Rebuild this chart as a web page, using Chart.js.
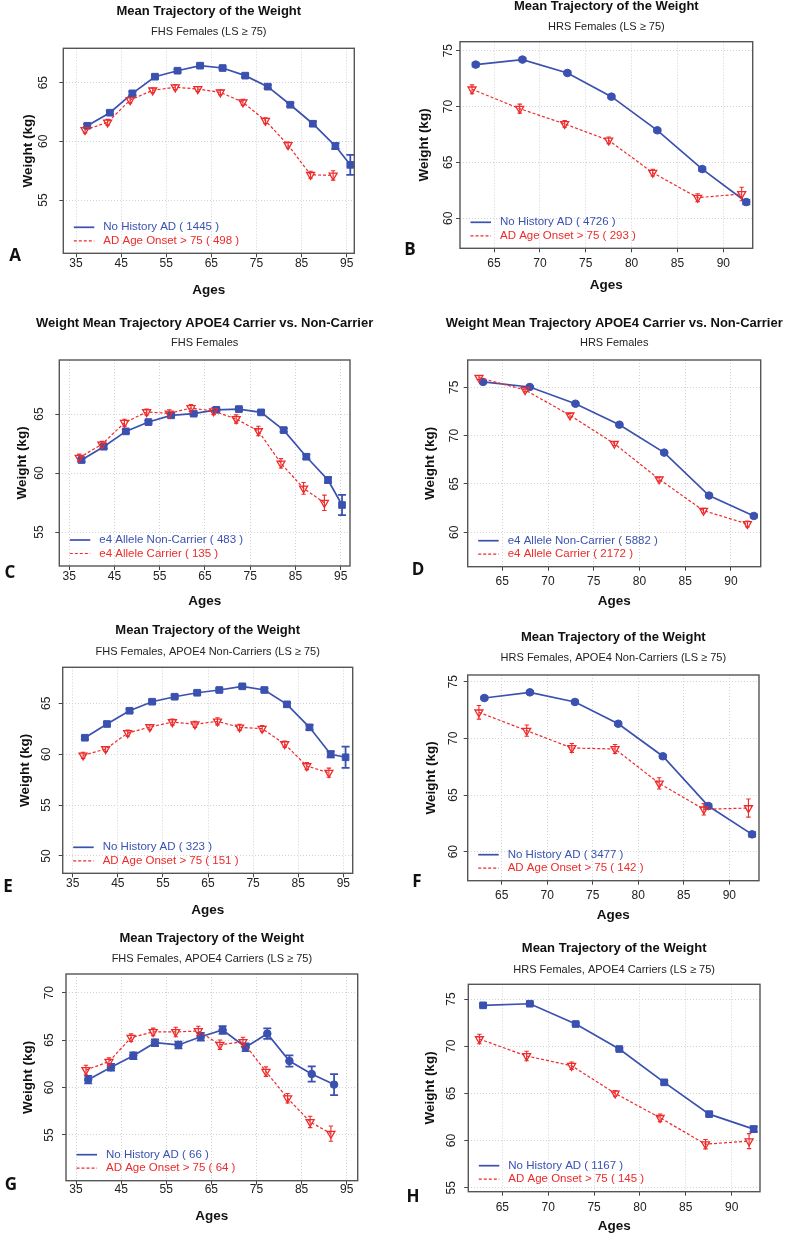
<!DOCTYPE html>
<html lang="en">
<head>
  <meta charset="UTF-8">
  <title>Mean Trajectory of the Weight</title>
  <script src="https://cdn.jsdelivr.net/npm/chart.js"></script>
  <style>
    body { margin: 0; background: #fff; }
    #page { position: relative; width: 786px; height: 1239px; overflow: hidden; }
    #page canvas { position: absolute; }
  </style>
</head>
<body>
<div id="page"></div>
<script>
  // ---------- data ----------
  const titleMean = 'Mean Trajectory of the Weight';
  const titleApoe = 'Weight Mean Trajectory APOE4 Carrier vs. Non-Carrier';
  const xTicksFHS = [35, 45, 55, 65, 75, 85, 95];
  const xTicksHRS = [65, 70, 75, 80, 85, 90];

  // A  FHS females
  const legendA = ['No History AD ( 1445 )', 'AD Age Onset > 75 ( 498 )'];
  const yTicksA = [55, 60, 65];
  const agesA1 = [37.5, 42.5, 47.5, 52.5, 57.5, 62.5, 67.5, 72.5, 77.5, 82.5, 87.5, 92.5, 95.8];
  const weightA1 = [61.33, 62.44, 64.09, 65.51, 66.02, 66.45, 66.25, 65.6, 64.66, 63.12, 61.5, 59.6, 58.0];
  const errA1 = [0.15, 0.15, 0.15, 0.12, 0.12, 0.12, 0.12, 0.12, 0.15, 0.15, 0.2, 0.25, 0.85];
  const agesA2 = [37, 42, 47, 52, 57, 62, 67, 72, 77, 82, 87, 92];
  const weightA2 = [60.97, 61.62, 63.52, 64.35, 64.61, 64.46, 64.18, 63.33, 61.76, 59.69, 57.15, 57.1];
  const errA2 = [0.25, 0.25, 0.25, 0.2, 0.2, 0.2, 0.2, 0.25, 0.25, 0.25, 0.3, 0.4];

  // B  HRS females
  const legendB = ['No History AD ( 4726 )', 'AD Age Onset > 75 ( 293 )'];
  const yTicksB = [60, 65, 70, 75];
  const agesB1 = [63.0, 68.1, 73.0, 77.8, 82.8, 87.7, 92.5];
  const weightB1 = [73.75, 74.2, 73.0, 70.88, 67.87, 64.4, 61.45];
  const errB1 = [0.15, 0.12, 0.12, 0.12, 0.12, 0.15, 0.2];
  const agesB2 = [62.6, 67.8, 72.7, 77.5, 82.3, 87.2, 92.0];
  const weightB2 = [71.54, 69.81, 68.44, 66.97, 64.08, 61.84, 62.17];
  const errB2 = [0.4, 0.4, 0.3, 0.3, 0.3, 0.35, 0.6];

  // C  FHS females, APOE4
  const legendC = ['e4 Allele Non-Carrier ( 483 )', 'e4 Allele Carrier ( 135 )'];
  const yTicksC = [55, 60, 65];
  const agesC1 = [37.7, 42.6, 47.5, 52.5, 57.5, 62.5, 67.5, 72.5, 77.4, 82.4, 87.4, 92.2, 95.3];
  const weightC1 = [61.1, 62.23, 63.53, 64.32, 64.89, 65.03, 65.36, 65.42, 65.14, 63.64, 61.38, 59.41, 57.29];
  const errC1 = [0.15, 0.15, 0.15, 0.12, 0.12, 0.12, 0.12, 0.12, 0.15, 0.15, 0.2, 0.25, 0.85];
  const agesC2 = [37.2, 42.2, 47.2, 52.1, 57.1, 61.9, 66.9, 71.9, 76.8, 81.8, 86.8, 91.4];
  const weightC2 = [61.3, 62.43, 64.26, 65.17, 65.06, 65.51, 65.25, 64.58, 63.56, 60.82, 58.7, 57.48];
  const errC2 = [0.3, 0.25, 0.3, 0.25, 0.3, 0.3, 0.3, 0.35, 0.4, 0.4, 0.5, 0.65];

  // D  HRS females, APOE4
  const legendD = ['e4 Allele Non-Carrier ( 5882 )', 'e4 Allele Carrier ( 2172 )'];
  const yTicksD = [60, 65, 70, 75];
  const agesD1 = [62.9, 68.0, 73.0, 77.8, 82.7, 87.6, 92.5];
  const weightD1 = [75.55, 75.03, 73.3, 71.13, 68.24, 63.8, 61.69];
  const errD1 = [0.1, 0.1, 0.1, 0.1, 0.1, 0.12, 0.15];
  const agesD2 = [62.45, 67.5, 72.4, 77.25, 82.15, 87.0, 91.8];
  const weightD2 = [75.99, 74.72, 72.1, 69.17, 65.49, 62.24, 60.86];
  const errD2 = [0.2, 0.2, 0.2, 0.2, 0.2, 0.25, 0.3];

  // E  FHS females, APOE4 non-carriers
  const legendE = ['No History AD ( 323 )', 'AD Age Onset > 75 ( 151 )'];
  const yTicksE = [50, 55, 60, 65];
  const agesE1 = [37.7, 42.6, 47.6, 52.6, 57.6, 62.6, 67.5, 72.6, 77.5, 82.5, 87.5, 92.2, 95.5];
  const weightE1 = [61.62, 62.97, 64.27, 65.16, 65.65, 66.04, 66.31, 66.67, 66.31, 64.9, 62.64, 59.99, 59.7];
  const errE1 = [0.15, 0.15, 0.15, 0.15, 0.15, 0.15, 0.15, 0.15, 0.15, 0.2, 0.25, 0.3, 1.05];
  const agesE2 = [37.3, 42.3, 47.2, 52.1, 57.1, 62.1, 67.1, 72.0, 77.0, 82.0, 86.9, 91.8];
  const weightE2 = [59.89, 60.51, 62.08, 62.67, 63.16, 62.94, 63.23, 62.64, 62.51, 61.0, 58.84, 58.18];
  const errE2 = [0.3, 0.25, 0.3, 0.25, 0.3, 0.3, 0.35, 0.3, 0.3, 0.3, 0.35, 0.45];

  // F  HRS females, APOE4 non-carriers
  const legendF = ['No History AD ( 3477 )', 'AD Age Onset > 75 ( 142 )'];
  const yTicksF = [60, 65, 70, 75];
  const agesF1 = [63.1, 68.1, 73.05, 77.8, 82.7, 87.7, 92.5];
  const weightF1 = [73.56, 74.06, 73.21, 71.29, 68.42, 64.03, 61.53];
  const errF1 = [0.12, 0.12, 0.12, 0.12, 0.12, 0.15, 0.2];
  const agesF2 = [62.5, 67.75, 72.7, 77.45, 82.3, 87.2, 92.1];
  const weightF2 = [72.3, 70.68, 69.15, 69.06, 66.03, 63.74, 63.85];
  const errF2 = [0.6, 0.5, 0.4, 0.4, 0.5, 0.5, 0.8];

  // G  FHS females, APOE4 carriers
  const legendG = ['No History AD ( 66 )', 'AD Age Onset > 75 ( 64 )'];
  const yTicksG = [55, 60, 65, 70];
  const agesG1 = [37.7, 42.75, 47.7, 52.5, 57.7, 62.65, 67.5, 72.6, 77.4, 82.3, 87.25, 92.2];
  const weightG1 = [60.83, 62.14, 63.36, 64.73, 64.49, 65.36, 66.07, 64.25, 65.68, 62.8, 61.43, 60.31];
  const errG1 = [0.4, 0.35, 0.35, 0.35, 0.35, 0.4, 0.4, 0.4, 0.55, 0.6, 0.8, 1.1];
  const agesG2 = [37.2, 42.3, 47.2, 52.1, 57.1, 62.1, 66.9, 72.0, 77.1, 81.9, 86.9, 91.5];
  const weightG2 = [61.85, 62.73, 65.26, 65.86, 65.86, 65.96, 64.52, 64.81, 61.68, 58.87, 56.38, 55.14];
  const errG2 = [0.5, 0.4, 0.4, 0.4, 0.5, 0.5, 0.5, 0.5, 0.5, 0.5, 0.6, 0.8];

  // H  HRS females, APOE4 carriers
  const legendH = ['No History AD ( 1167 )', 'AD Age Onset > 75 ( 145 )'];
  const yTicksH = [55, 60, 65, 70, 75];
  const agesH1 = [62.9, 68.0, 73.0, 77.75, 82.65, 87.55, 92.4];
  const weightH1 = [74.33, 74.5, 72.35, 69.7, 66.17, 62.8, 61.21];
  const errH1 = [0.12, 0.12, 0.12, 0.12, 0.15, 0.15, 0.3];
  const agesH2 = [62.5, 67.65, 72.55, 77.3, 82.2, 87.15, 91.9];
  const weightH2 = [70.76, 68.96, 67.93, 65.0, 62.41, 59.62, 59.94];
  const errH2 = [0.5, 0.5, 0.4, 0.3, 0.4, 0.5, 0.8];

  // ---------- styles ----------
  const BLUE = '#3a51b0';
  const RED = '#ee2a2a';
  const FONT = "'Liberation Sans', Arial, sans-serif";
  const TICK_LEN = 4;
  const TICK_SIZE = 12;
  const LABEL_W = 13.3; // width of a two digit tick label

  // error bars drawn from the library scales
  const errorBars = {
    id: 'errorBars',
    beforeDatasetsDraw(chart) {
      const ctx = chart.ctx;
      const xs = chart.scales.x, ys = chart.scales.y;
      chart.data.datasets.forEach(ds => {
        ctx.save();
        ctx.strokeStyle = ds.borderColor;
        ctx.lineWidth = ds.errWidth;
        ctx.setLineDash([]);
        ds.data.forEach((p, i) => {
          const e = ds.errors[i];
          const px = xs.getPixelForValue(p.x);
          const y1 = ys.getPixelForValue(p.y - e);
          const y2 = ys.getPixelForValue(p.y + e);
          ctx.beginPath();
          ctx.moveTo(px, y1); ctx.lineTo(px, y2);
          ctx.moveTo(px - ds.capHalf, y1); ctx.lineTo(px + ds.capHalf, y1);
          ctx.moveTo(px - ds.capHalf, y2); ctx.lineTo(px + ds.capHalf, y2);
          ctx.stroke();
        });
        ctx.restore();
      });
    }
  };

  // frame, titles, inset legend and panel letter
  const panelDecor = {
    id: 'panelDecor',
    afterDraw(chart, args, o) {
      const ctx = chart.ctx;
      const a = chart.chartArea;
      const mid = (a.left + a.right) / 2;
      ctx.save();
      ctx.strokeStyle = '#555';
      ctx.lineWidth = 1.4;
      ctx.strokeRect(a.left, a.top, a.right - a.left, a.bottom - a.top);

      ctx.textAlign = 'center';
      ctx.textBaseline = 'middle';
      ctx.fillStyle = '#111';
      ctx.font = 'bold 13px ' + FONT;
      ctx.fillText(o.title, mid, o.titleY);
      ctx.fillStyle = '#222';
      ctx.font = '11px ' + FONT;
      ctx.fillText(o.subtitle, mid, o.subY);

      // legend
      const rows = [26, 12.5];
      ctx.textAlign = 'left';
      ctx.font = '11.5px ' + FONT;
      chart.data.datasets.forEach((ds, i) => {
        const y = a.bottom - rows[i];
        ctx.strokeStyle = ds.borderColor;
        ctx.lineWidth = ds.borderWidth;
        ctx.setLineDash(ds.borderDash || []);
        ctx.beginPath();
        ctx.moveTo(a.left + 10.5, y);
        ctx.lineTo(a.left + 31, y);
        ctx.stroke();
        ctx.fillStyle = ds.borderColor;
        ctx.fillText(ds.label, a.left + 40, y);
      });

      ctx.fillStyle = '#111';
      ctx.textAlign = 'center';
      ctx.font = "bold 17px 'Open Sans', sans-serif";
      ctx.fillText(o.letter, o.letterX, o.letterY);
      ctx.restore();
    }
  };

  function drawPanel(d, lay) {
    const [cx, cy, cw, ch] = lay.canvas;
    const [pl, pt, pr, pb] = lay.plot;
    const cvs = document.createElement('canvas');
    cvs.width = cw;
    cvs.height = ch;
    cvs.style.left = cx + 'px';
    cvs.style.top = cy + 'px';
    document.getElementById('page').appendChild(cvs);

    const toPts = (xs, ys) => xs.map((x, i) => ({x: x, y: ys[i]}));
    const grid = {color: '#d2d2d2', lineWidth: 1, tickLength: TICK_LEN, tickColor: '#444', tickWidth: 1, tickBorderDash: []};
    const border = {display: false, dash: [1, 2]};
    const tickFont = {family: FONT, size: TICK_SIZE};
    const axisFont = {family: FONT, size: 13.5, weight: 'bold'};

    new Chart(cvs, {
      type: 'line',
      data: {
        datasets: [{
          label: d.legend[0],
          data: toPts(d.ages1, d.weight1),
          errors: d.err1,
          borderColor: BLUE,
          backgroundColor: BLUE,
          borderWidth: 1.7,
          pointStyle: d.marker,
          pointRadius: d.marker === 'rect' ? 4.7 : 3.8,
          pointBackgroundColor: BLUE,
          pointBorderColor: BLUE,
          pointBorderWidth: 1,
          errWidth: 1.8,
          capHalf: 4,
          order: 1
        }, {
          label: d.legend[1],
          data: toPts(d.ages2, d.weight2),
          errors: d.err2,
          borderColor: RED,
          backgroundColor: RED,
          borderWidth: 1.2,
          borderDash: [3, 2],
          pointStyle: 'triangle',
          pointRotation: 180,
          pointRadius: 4.6,
          pointBackgroundColor: 'rgba(255,255,255,0)',
          pointBorderColor: RED,
          pointBorderWidth: 1.3,
          errWidth: 1.1,
          capHalf: 2.2,
          order: 0
        }]
      },
      options: {
        responsive: false,
        animation: false,
        layout: {padding: {left: 0, top: pt - cy, right: cx + cw - pr, bottom: 0}},
        plugins: {
          legend: {display: false},
          tooltip: {enabled: false},
          panelDecor: {
            title: d.title, subtitle: d.subtitle,
            titleY: lay.titleY - cy, subY: lay.subY - cy,
            letter: d.letter, letterX: lay.letterAt[0] - cx, letterY: lay.letterAt[1] - cy
          }
        },
        scales: {
          x: {
            type: 'linear',
            min: d.xRange[0],
            max: d.xRange[1],
            afterBuildTicks: s => { s.ticks = d.xTicks.map(v => ({value: v})); },
            afterFit: s => { s.height = cy + ch - pb; },
            grid: grid,
            border: border,
            ticks: {
              autoSkip: false, maxRotation: 0, color: '#222', font: tickFont,
              padding: lay.xTickY - pb - TICK_LEN - TICK_SIZE * 0.6
            },
            title: {
              display: true, text: 'Ages', color: '#111', font: axisFont,
              padding: {top: 0, bottom: cy + ch - lay.agesY - 8.1}
            }
          },
          y: {
            type: 'linear',
            min: d.yRange[0],
            max: d.yRange[1],
            afterBuildTicks: s => { s.ticks = d.yTicks.map(v => ({value: v})); },
            afterFit: s => { s.width = pl - cx; },
            grid: grid,
            border: border,
            ticks: {
              autoSkip: false, minRotation: 90, maxRotation: 90, crossAlign: 'center',
              color: '#222', font: tickFont,
              padding: pl - lay.yTickX - TICK_LEN - LABEL_W / 2
            },
            title: {
              display: true, text: 'Weight (kg)', color: '#111', font: axisFont,
              padding: {top: lay.yLabX - cx - 8.1, bottom: 0}
            }
          }
        }
      },
      plugins: [errorBars, panelDecor]
    });
  }

  // ---------- panels ----------
  const panels = [
    [{letter: 'A', title: titleMean, subtitle: 'FHS Females (LS \u2265 75)', legend: legendA, marker: 'rect',
      xTicks: xTicksFHS, yTicks: yTicksA, xRange: [32.18, 96.69], yRange: [50.46, 67.93],
      ages1: agesA1, weight1: weightA1, err1: errA1, ages2: agesA2, weight2: weightA2, err2: errA2},
     {canvas: [0, 0, 393, 300], plot: [63.3, 48.3, 354.3, 253.3], titleY: 11, subY: 32,
      xTickY: 263.3, agesY: 290, yLabX: 28, yTickX: 43.3, letterAt: [15, 256]}],
    [{letter: 'B', title: titleMean, subtitle: 'HRS Females (LS \u2265 75)', legend: legendB, marker: 'circle',
      xTicks: xTicksHRS, yTicks: yTicksB, xRange: [61.29, 93.2], yRange: [57.31, 75.8],
      ages1: agesB1, weight1: weightB1, err1: errB1, ages2: agesB2, weight2: weightB2, err2: errB2},
     {canvas: [393, 0, 393, 300], plot: [460, 41.7, 752.7, 248.3], titleY: 6, subY: 27,
      xTickY: 263.3, agesY: 285, yLabX: 424.3, yTickX: 448.3, letterAt: [410, 250]}],
    [{letter: 'C', title: titleApoe, subtitle: 'FHS Females', legend: legendC, marker: 'rect',
      xTicks: xTicksFHS, yTicks: yTicksC, xRange: [32.79, 97.06], yRange: [52.12, 69.58],
      ages1: agesC1, weight1: weightC1, err1: errC1, ages2: agesC2, weight2: weightC2, err2: errC2},
     {canvas: [0, 300, 393, 310], plot: [59.3, 360, 350, 566], titleY: 323.3, subY: 342.7,
      xTickY: 576.7, agesY: 601.7, yLabX: 22.7, yTickX: 39.3, letterAt: [10, 573]}],
    [{letter: 'D', title: titleApoe, subtitle: 'HRS Females', legend: legendD, marker: 'circle',
      xTicks: xTicksHRS, yTicks: yTicksD, xRange: [61.22, 93.25], yRange: [56.44, 77.82],
      ages1: agesD1, weight1: weightD1, err1: errD1, ages2: agesD2, weight2: weightD2, err2: errD2},
     {canvas: [393, 300, 393, 310], plot: [467.7, 360, 760.7, 566.7], titleY: 323.3, subY: 343.3,
      xTickY: 581.7, agesY: 601.7, yLabX: 430, yTickX: 455, letterAt: [418, 570]}],
    [{letter: 'E', title: titleMean, subtitle: 'FHS Females, APOE4 Non-Carriers (LS \u2265 75)', legend: legendE, marker: 'rect',
      xTicks: xTicksFHS, yTicks: yTicksE, xRange: [32.78, 97.08], yRange: [48.3, 68.54],
      ages1: agesE1, weight1: weightE1, err1: errE1, ages2: agesE2, weight2: weightE2, err2: errE2},
     {canvas: [0, 610, 393, 312], plot: [62.7, 667.3, 352.7, 873.3], titleY: 630.7, subY: 652.3,
      xTickY: 883.3, agesY: 910, yLabX: 25, yTickX: 47, letterAt: [8, 887]}],
    [{letter: 'F', title: titleMean, subtitle: 'HRS Females, APOE4 Non-Carriers (LS \u2265 75)', legend: legendF, marker: 'circle',
      xTicks: xTicksHRS, yTicks: yTicksF, xRange: [61.27, 93.26], yRange: [57.44, 75.59],
      ages1: agesF1, weight1: weightF1, err1: errF1, ages2: agesF2, weight2: weightF2, err2: errF2},
     {canvas: [393, 610, 393, 312], plot: [467.7, 675, 759, 880.7], titleY: 637.3, subY: 658.3,
      xTickY: 896, agesY: 915, yLabX: 431.7, yTickX: 453.3, letterAt: [417, 882]}],
    [{letter: 'G', title: titleMean, subtitle: 'FHS Females, APOE4 Carriers (LS \u2265 75)', legend: legendG, marker: 'circle',
      xTicks: xTicksFHS, yTicks: yTicksG, xRange: [32.78, 97.44], yRange: [50.18, 71.97],
      ages1: agesG1, weight1: weightG1, err1: errG1, ages2: agesG2, weight2: weightG2, err2: errG2},
     {canvas: [0, 922, 393, 317], plot: [66, 974, 357.7, 1180.7], titleY: 938.3, subY: 959.3,
      xTickY: 1190, agesY: 1216.7, yLabX: 28.3, yTickX: 50, letterAt: [11, 1185]}],
    [{letter: 'H', title: titleMean, subtitle: 'HRS Females, APOE4 Carriers (LS \u2265 75)', legend: legendH, marker: 'rect',
      xTicks: xTicksHRS, yTicks: yTicksH, xRange: [61.29, 93.09], yRange: [54.58, 76.56],
      ages1: agesH1, weight1: weightH1, err1: errH1, ages2: agesH2, weight2: weightH2, err2: errH2},
     {canvas: [393, 922, 393, 317], plot: [468.3, 984.3, 760, 1191.7], titleY: 948.3, subY: 970,
      xTickY: 1208, agesY: 1226.7, yLabX: 430, yTickX: 451.7, letterAt: [413, 1197]}]
  ];

  panels.forEach(p => drawPanel(p[0], p[1]));
</script>
</body>
</html>
